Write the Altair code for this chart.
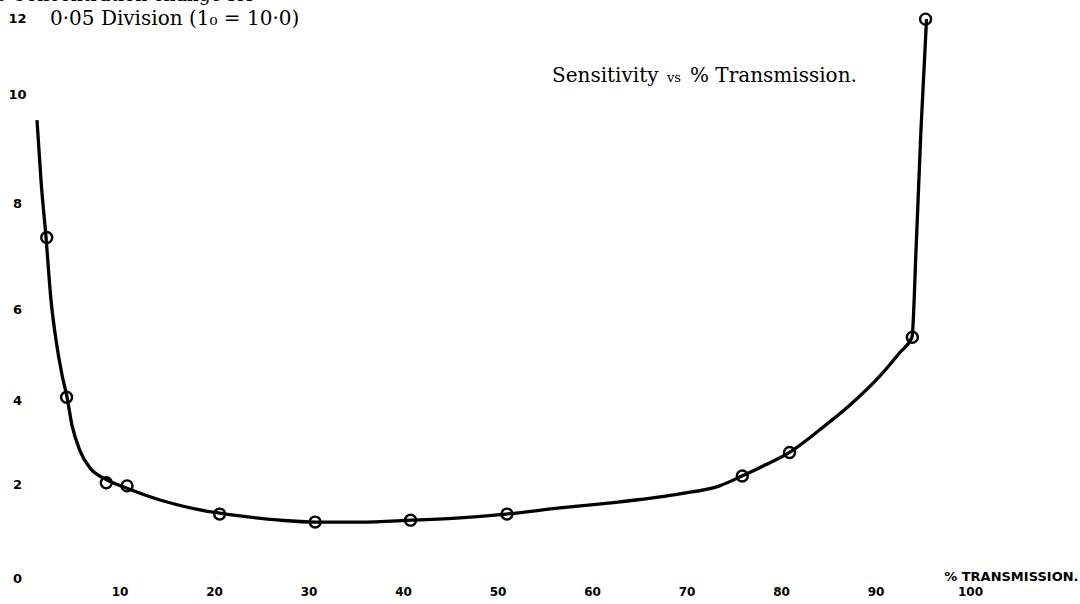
import altair as alt
import pandas as pd

# Axis tick labels
x_ticks = [10, 20, 30, 40, 50, 60, 70, 80, 90, 100]
y_ticks = [0, 2, 4, 6, 8, 10, 12]

# Measured points (open circles): % transmission vs sensitivity
pt_trans = [2.3, 4.4, 8.6, 10.8, 20.6, 30.7, 40.8, 51.0, 75.9, 80.9, 93.9, 95.3]
pt_sens = [7.35, 4.06, 2.03, 1.96, 1.36, 1.19, 1.23, 1.36, 2.19, 2.75, 5.38, 11.97]

# Hand-drawn smooth curve through the points
curve_trans = [1.27, 1.69, 2.22, 2.75, 3.28, 3.92, 4.44, 4.97, 5.82, 6.88, 8.47,
               10.79, 14.29, 18.52, 22.75, 26.98, 30.79, 35.45, 40.85, 46.03,
               50.9, 56.6, 62.96, 69.3, 73.5, 75.87, 78.3, 80.95, 84.1, 87.3,
               90.48, 92.6, 93.86, 94.29, 94.81, 95.4]
curve_sens = [9.52, 8.42, 7.36, 6.17, 5.32, 4.55, 4.07, 3.40, 2.79, 2.38, 2.12,
              1.91, 1.66, 1.45, 1.32, 1.23, 1.19, 1.19, 1.23, 1.28,
              1.36, 1.49, 1.62, 1.79, 1.96, 2.19, 2.45, 2.76, 3.29, 3.88,
              4.53, 5.05, 5.38, 7.11, 9.34, 11.97]

# Texts
y_title_top = ["% Concentration change for"]
y_title_sub = ["0·05 Division (1₀ = 10·0)"]
title_a = ["Sensitivity"]
title_b = ["vs"]
title_c = ["% Transmission."]
x_title = "% TRANSMISSION."

pts = pd.DataFrame({"t": pt_trans, "s": pt_sens})
crv = pd.DataFrame({"t": curve_trans, "s": curve_sens})

xscale = alt.Scale(type="linear", domain=[0, 100], range=[25, 970], nice=False, zero=False)
yscale = alt.Scale(type="linear", domain=y_ticks, range=[578, 484, 400, 309, 203, 94, 18],
                   nice=False, zero=False)

xaxis = alt.Axis(values=x_ticks, domain=False, ticks=False, tickSize=0, grid=False,
                 labelFont="DejaVu Sans", labelFontWeight="bold", labelFontSize=12,
                 labelColor="black", labelPadding=0, labelBaseline="middle",
                 labelFlush=False, labelOverlap=False, offset=-13,
                 title=x_title, titleX=1078, titleY=-15, titleAlign="right",
                 titleBaseline="middle", titleFont="DejaVu Sans", titleFontSize=13,
                 titleFontWeight="bold", titleColor="black")
yaxis = alt.Axis(values=y_ticks, domain=False, ticks=False, tickSize=0, grid=False,
                 labelFont="DejaVu Sans", labelFontWeight="bold", labelFontSize=13,
                 labelColor="black", labelPadding=0, labelAlign="center",
                 labelBaseline="middle", labelFlush=False, labelOverlap=False,
                 offset=-17, title=None)

line = alt.Chart(crv).mark_line(color="black", strokeWidth=3.3, interpolate="monotone").encode(
    x=alt.X("t:Q", scale=xscale, axis=xaxis),
    y=alt.Y("s:Q", scale=yscale, axis=yaxis),
    order="t:Q",
)

points = alt.Chart(pts).mark_point(shape="circle", filled=False, size=120, strokeWidth=2.4,
                                   color="black", opacity=1).encode(
    x=alt.X("t:Q", scale=xscale),
    y=alt.Y("s:Q", scale=yscale),
)


def label(texts, x, y, size, font="DejaVu Serif", align="left", baseline="alphabetic"):
    return alt.Chart(pd.DataFrame({"txt": texts})).mark_text(
        font=font, fontSize=size, color="black", align=align, baseline=baseline
    ).encode(x=alt.value(x), y=alt.value(y), text="txt:N")


t1 = label(y_title_top, -12, 1, 18.7)
t2 = label(y_title_sub, 50, 25, 20)
t3 = label(title_a, 552, 82, 20)
t4 = label(title_b, 667, 82, 13)
t5 = label(title_c, 690, 82, 20)

chart = alt.layer(line, points, t1, t2, t3, t4, t5).properties(
    width=1080, height=604, padding=0,
    autosize=alt.AutoSizeParams(type="none"),
    background="white",
).configure_view(stroke=None)

chart.save("out.html", embed_options={"renderer": "svg", "actions": False})
